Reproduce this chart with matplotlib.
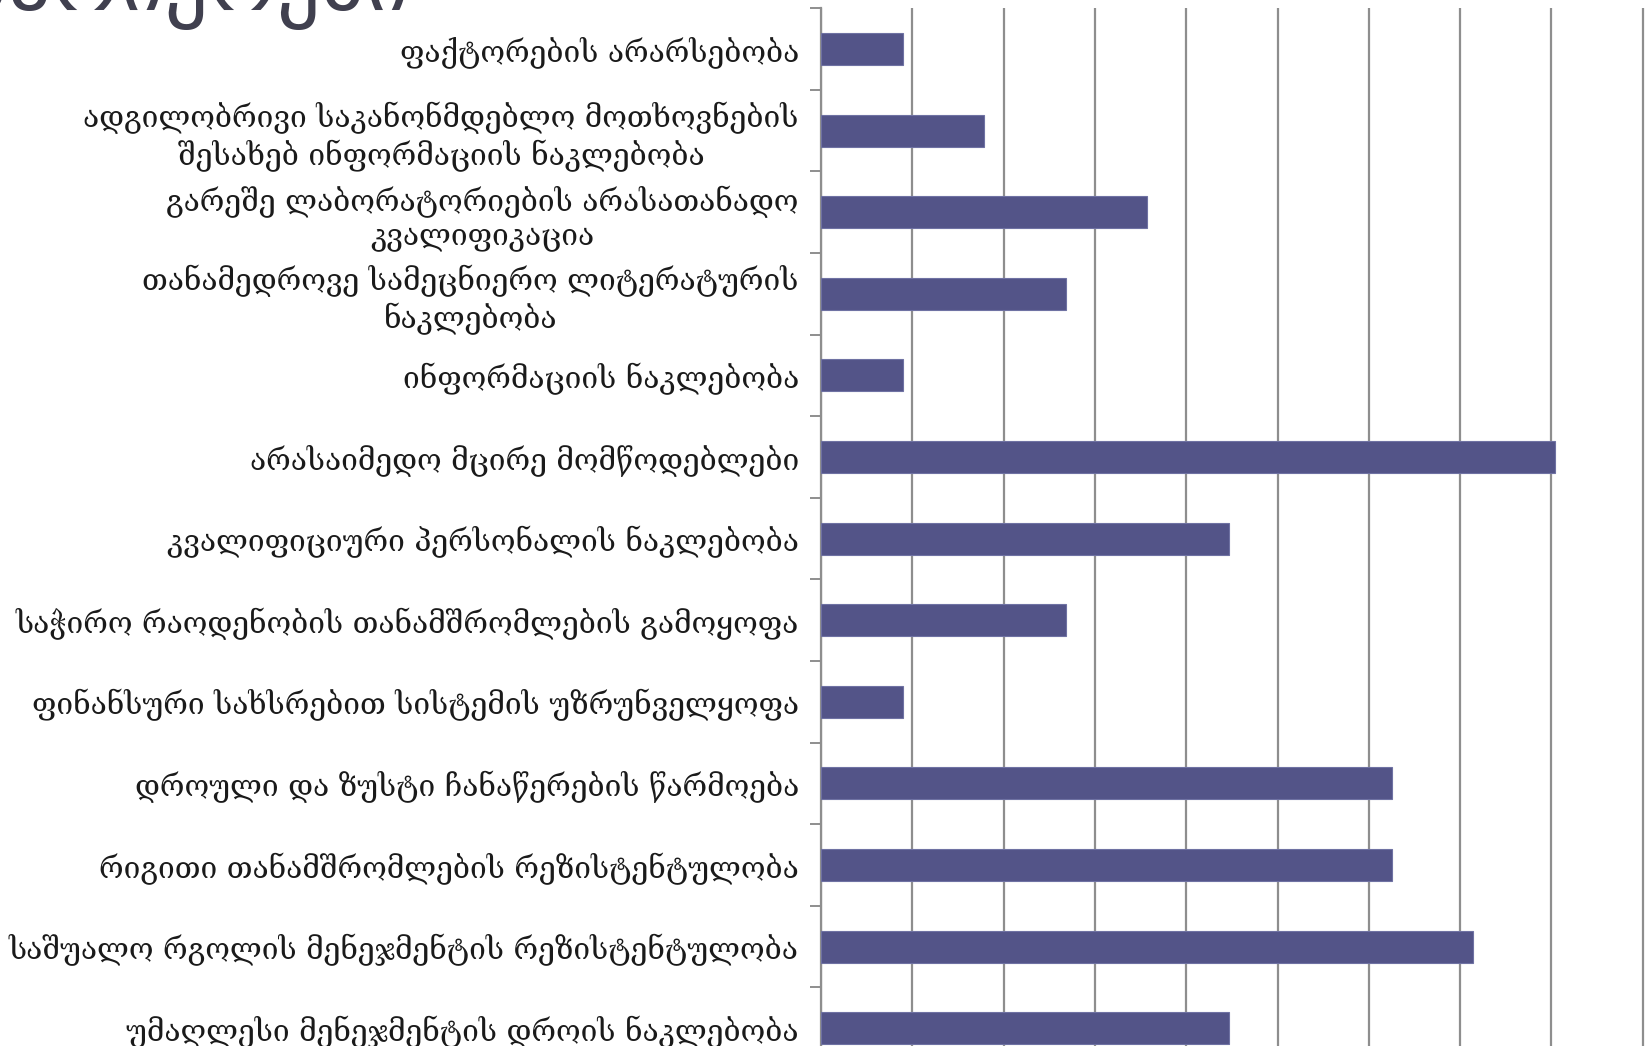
import matplotlib
matplotlib.use("Agg")
import matplotlib.pyplot as plt
import numpy as np

categories = [
    "ფაქტორების არარსებობა",
    "ადგილობრივი საკანონმდებლო მოთხოვნების\nშესახებ ინფორმაციის ნაკლებობა",
    "გარეშე ლაბორატორიების არასათანადო\nკვალიფიკაცია",
    "თანამედროვე სამეცნიერო ლიტერატურის\nნაკლებობა",
    "ინფორმაციის ნაკლებობა",
    "არასაიმედო მცირე მომწოდებლები",
    "კვალიფიციური პერსონალის ნაკლებობა",
    "საჭირო რაოდენობის თანამშრომლების გამოყოფა",
    "ფინანსური სახსრებით სისტემის უზრუნველყოფა",
    "დროული და ზუსტი ჩანაწერების წარმოება",
    "რიგითი თანამშრომლების რეზისტენტულობა",
    "საშუალო რგოლის მენეჯმენტის რეზისტენტულობა",
    "უმაღლესი მენეჯმენტის დროის ნაკლებობა",
]
values = [1.79, 3.57, 7.14, 5.36, 1.79, 16.07, 8.93, 5.36, 1.79, 12.5, 12.5, 14.29, 8.93]
title_text = "ძირითადი ბარიერები"

W, H = 1646, 1046
fig = plt.figure(figsize=(W / 100, H / 100), dpi=100)

left_px, top_px = 821, 8.2
step_px = 81.6
unit_px = 91.3 / 2.0   # px per percent
xmax = 20
ax_w = xmax * unit_px
ax_h = step_px * len(categories)
ax = fig.add_axes([left_px / W, 1 - (top_px + ax_h) / H, ax_w / W, ax_h / H])

y = np.arange(len(categories))
ax.barh(y, values, height=0.39, color="#535488", edgecolor="#6f72a3", linewidth=0.8, zorder=3)
ax.set_ylim(len(categories) - 0.5, -0.5)
ax.set_xlim(0, xmax)

ax.set_xticks(np.arange(0, xmax + 0.1, 2))
ax.xaxis.grid(True, color="#8e8e8e", linewidth=1.6, zorder=0)
ax.tick_params(axis="x", length=0, labelbottom=False)

ax.set_yticks(y)
ax.set_yticklabels(categories, fontsize=21.5, family=["DejaVu Serif", "DejaVu Sans"],
                   color="#1a1a1a", multialignment="center", linespacing=1.22)
ax.tick_params(axis="y", which="major", length=0, pad=16)
ax.set_yticks(np.arange(-0.5, len(categories), 1), minor=True)
ax.tick_params(axis="y", which="minor", length=8, width=1.4, color="#8e8e8e")

for s in ["top", "right", "bottom"]:
    ax.spines[s].set_visible(False)
ax.spines["left"].set_color("#8e8e8e")
ax.spines["left"].set_linewidth(1.6)

fig.text(410 / W, 1 - 10 / H, title_text, ha="right", va="baseline",
         fontsize=62, color="#40404f", family="DejaVu Sans")

fig.savefig("out.png", dpi=100)
